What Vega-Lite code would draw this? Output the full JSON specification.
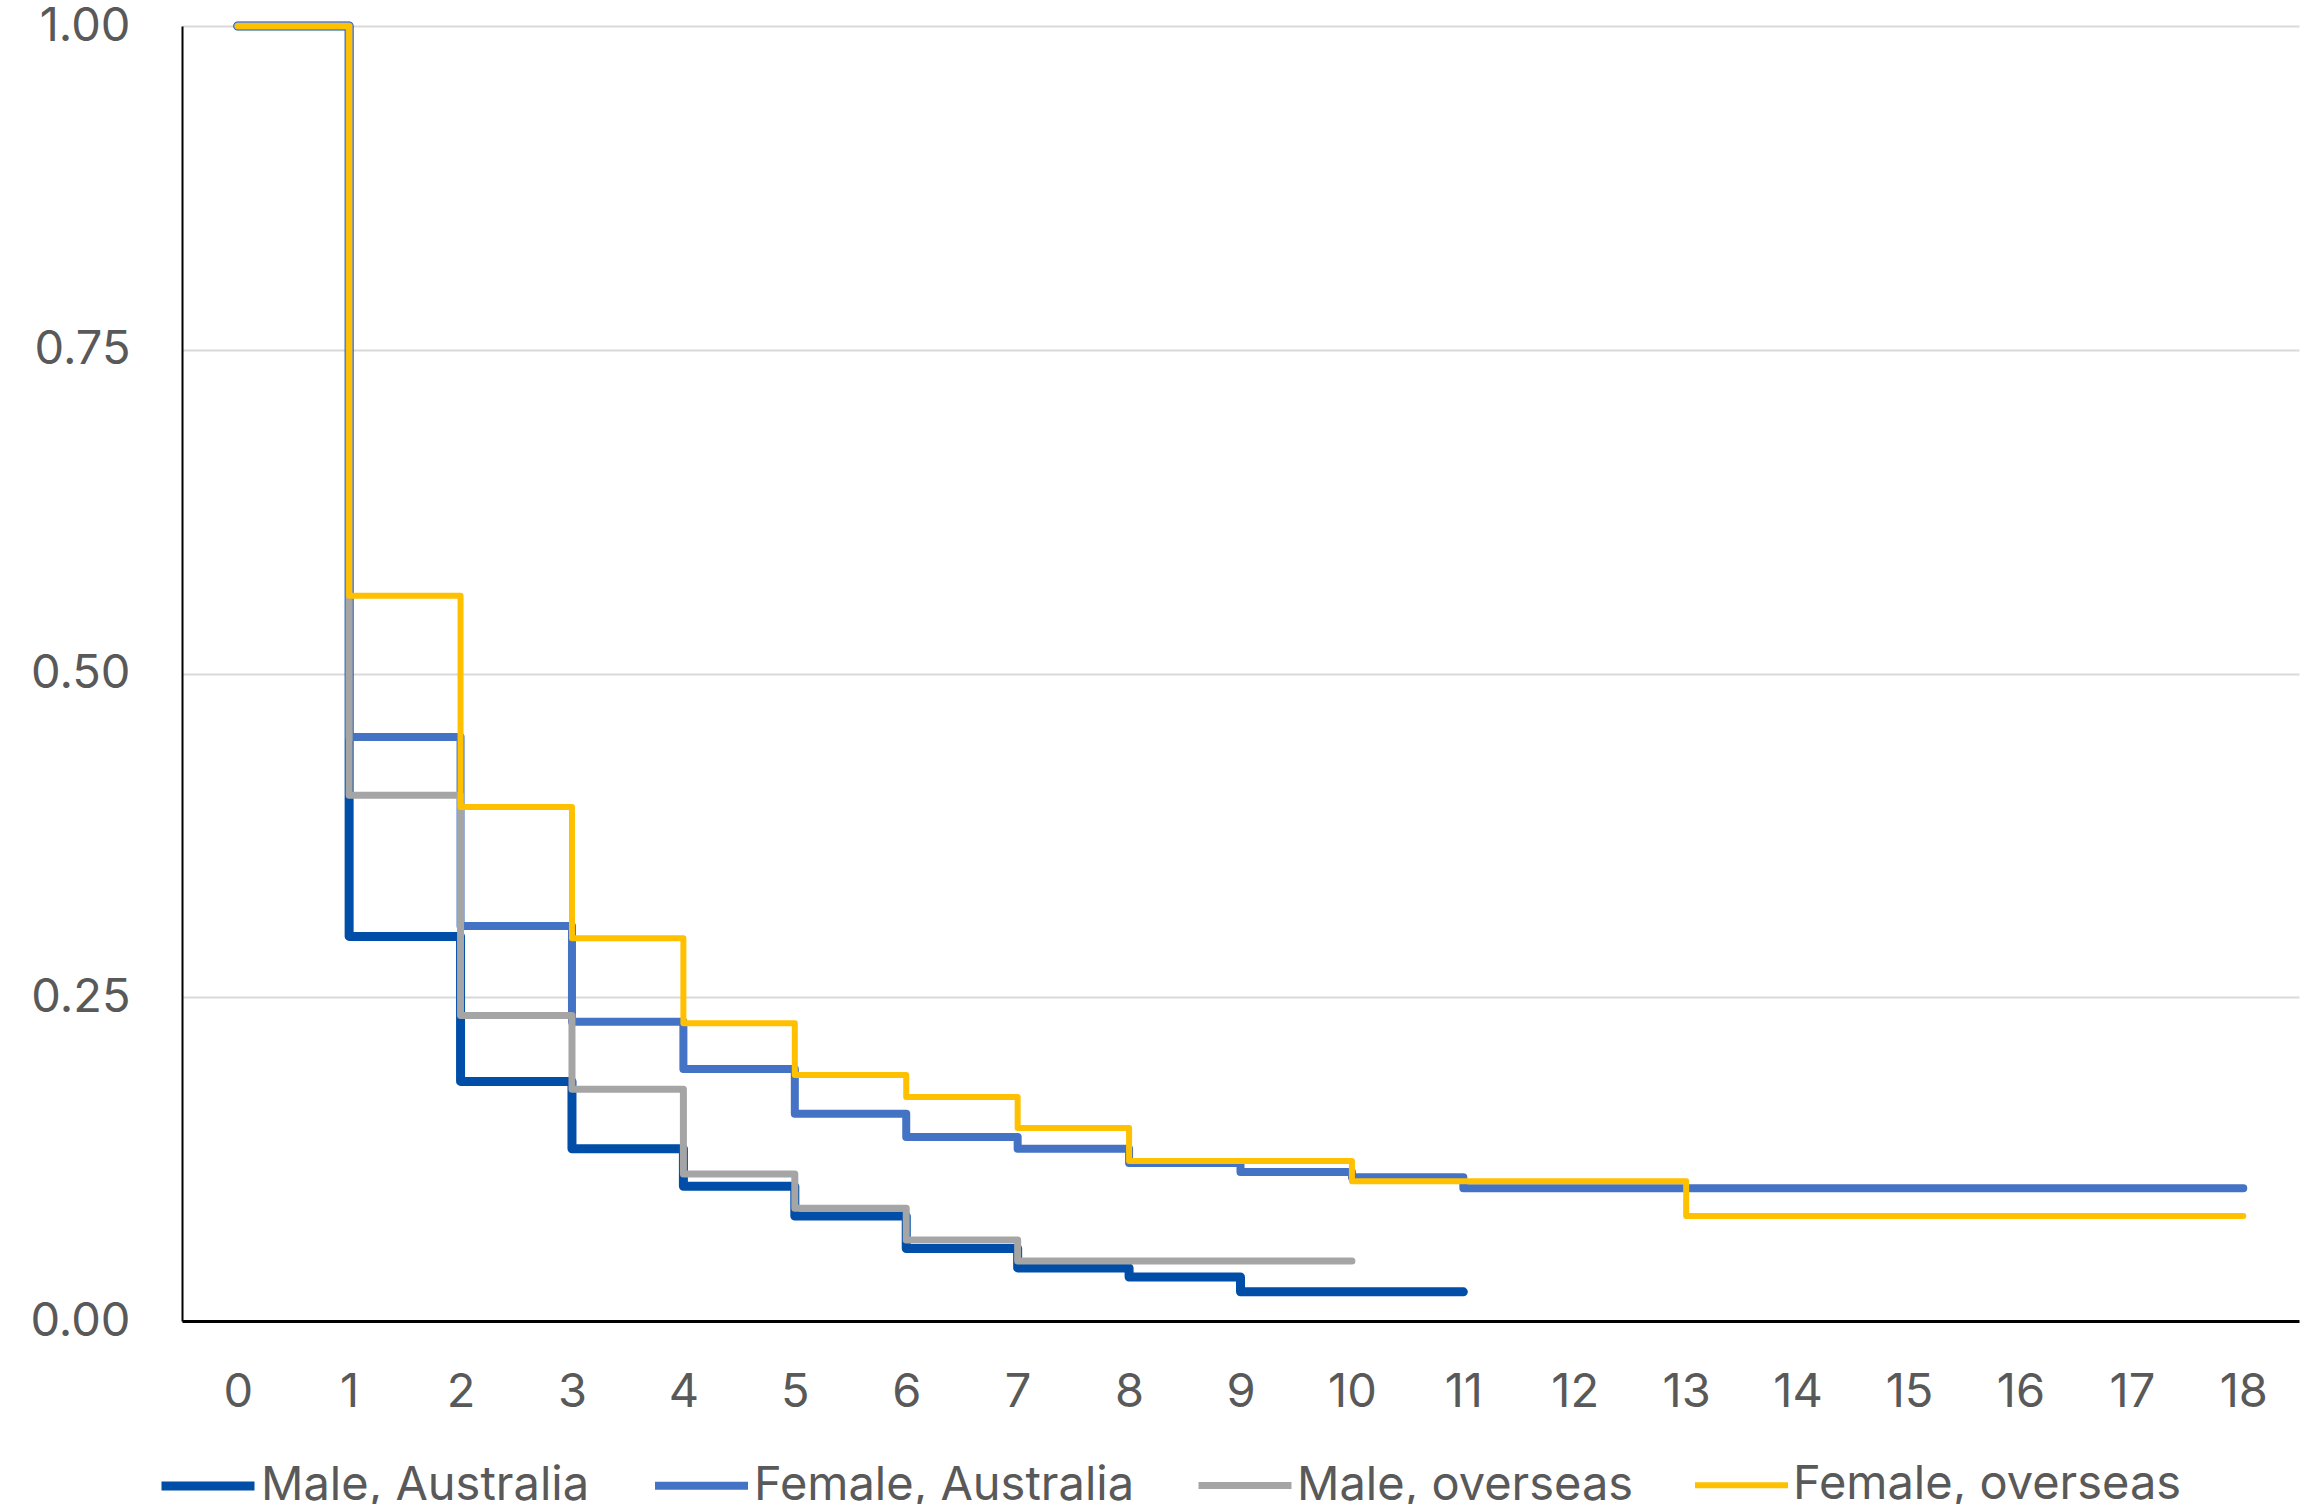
{
  "$schema": "https://vega.github.io/schema/vega-lite/v6.json",
  "autosize": {"type": "none"},
  "padding": {"left": 182, "top": 26, "right": 7, "bottom": 183},
  "width": 2117,
  "height": 1295,
  "background": "white",
  "config": {
    "font": "Inter",
    "view": {"stroke": null},
    "axis": {"labelFont": "Inter", "labelColor": "#595959", "labelFontSize": 47, "ticks": false, "title": null}
  },
  "data": {
    "values": [
      {"series": "Male, Australia", "t": 0, "v": 1.0},
      {"series": "Male, Australia", "t": 1, "v": 0.297},
      {"series": "Male, Australia", "t": 2, "v": 0.185},
      {"series": "Male, Australia", "t": 3, "v": 0.133},
      {"series": "Male, Australia", "t": 4, "v": 0.104},
      {"series": "Male, Australia", "t": 5, "v": 0.081},
      {"series": "Male, Australia", "t": 6, "v": 0.056},
      {"series": "Male, Australia", "t": 7, "v": 0.041},
      {"series": "Male, Australia", "t": 8, "v": 0.034},
      {"series": "Male, Australia", "t": 9, "v": 0.0225},
      {"series": "Male, Australia", "t": 10, "v": 0.0225},
      {"series": "Male, Australia", "t": 11, "v": 0.0225},
      {"series": "Female, Australia", "t": 0, "v": 1.0},
      {"series": "Female, Australia", "t": 1, "v": 0.451},
      {"series": "Female, Australia", "t": 2, "v": 0.305},
      {"series": "Female, Australia", "t": 3, "v": 0.231},
      {"series": "Female, Australia", "t": 4, "v": 0.1945},
      {"series": "Female, Australia", "t": 5, "v": 0.160},
      {"series": "Female, Australia", "t": 6, "v": 0.142},
      {"series": "Female, Australia", "t": 7, "v": 0.133},
      {"series": "Female, Australia", "t": 8, "v": 0.122},
      {"series": "Female, Australia", "t": 9, "v": 0.115},
      {"series": "Female, Australia", "t": 10, "v": 0.111},
      {"series": "Female, Australia", "t": 11, "v": 0.1025},
      {"series": "Female, Australia", "t": 12, "v": 0.1025},
      {"series": "Female, Australia", "t": 13, "v": 0.1025},
      {"series": "Female, Australia", "t": 14, "v": 0.1025},
      {"series": "Female, Australia", "t": 15, "v": 0.1025},
      {"series": "Female, Australia", "t": 16, "v": 0.1025},
      {"series": "Female, Australia", "t": 17, "v": 0.1025},
      {"series": "Female, Australia", "t": 18, "v": 0.1025},
      {"series": "Male, overseas", "t": 0, "v": 1.0},
      {"series": "Male, overseas", "t": 1, "v": 0.406},
      {"series": "Male, overseas", "t": 2, "v": 0.236},
      {"series": "Male, overseas", "t": 3, "v": 0.179},
      {"series": "Male, overseas", "t": 4, "v": 0.1135},
      {"series": "Male, overseas", "t": 5, "v": 0.087},
      {"series": "Male, overseas", "t": 6, "v": 0.0625},
      {"series": "Male, overseas", "t": 7, "v": 0.0463},
      {"series": "Male, overseas", "t": 8, "v": 0.0463},
      {"series": "Male, overseas", "t": 9, "v": 0.0463},
      {"series": "Male, overseas", "t": 10, "v": 0.0463},
      {"series": "Female, overseas", "t": 0, "v": 1.0},
      {"series": "Female, overseas", "t": 1, "v": 0.560},
      {"series": "Female, overseas", "t": 2, "v": 0.397},
      {"series": "Female, overseas", "t": 3, "v": 0.2956},
      {"series": "Female, overseas", "t": 4, "v": 0.230},
      {"series": "Female, overseas", "t": 5, "v": 0.190},
      {"series": "Female, overseas", "t": 6, "v": 0.173},
      {"series": "Female, overseas", "t": 7, "v": 0.149},
      {"series": "Female, overseas", "t": 8, "v": 0.1235},
      {"series": "Female, overseas", "t": 9, "v": 0.1235},
      {"series": "Female, overseas", "t": 10, "v": 0.108},
      {"series": "Female, overseas", "t": 11, "v": 0.108},
      {"series": "Female, overseas", "t": 12, "v": 0.108},
      {"series": "Female, overseas", "t": 13, "v": 0.081},
      {"series": "Female, overseas", "t": 14, "v": 0.081},
      {"series": "Female, overseas", "t": 15, "v": 0.081},
      {"series": "Female, overseas", "t": 16, "v": 0.081},
      {"series": "Female, overseas", "t": 17, "v": 0.081},
      {"series": "Female, overseas", "t": 18, "v": 0.081}
    ]
  },
  "mark": {"type": "line", "interpolate": "step-after", "strokeCap": "round", "strokeJoin": "round", "clip": false},
  "encoding": {
    "x": {
      "field": "t", "type": "quantitative",
      "scale": {"domain": [-0.5, 18.5], "nice": false, "zero": false},
      "axis": {"values": [0,1,2,3,4,5,6,7,8,9,10,11,12,13,14,15,16,17,18], "grid": false, "domainColor": "#000000", "domainWidth": 3, "labelPadding": 48, "labelFlush": false}
    },
    "y": {
      "field": "v", "type": "quantitative",
      "scale": {"domain": [0, 1], "nice": false},
      "axis": {"values": [0, 0.25, 0.5, 0.75, 1], "format": ".2f", "grid": true, "gridColor": "#d9d9d9", "gridWidth": 2, "domainColor": "#000000", "domainWidth": 2, "labelPadding": 52, "labelBaseline": "middle", "labelFlush": false}
    },
    "color": {
      "field": "series", "type": "nominal",
      "scale": {"domain": ["Male, Australia", "Female, Australia", "Male, overseas", "Female, overseas"], "range": ["#004EA8", "#4472C4", "#A5A5A5", "#FFC000"]},
      "legend": {
        "title": null, "orient": "none", "direction": "horizontal",
        "legendX": -25, "legendY": 1409,
        "symbolType": "stroke", "symbolSize": 8649, "symbolStrokeWidth": 7,
        "labelFont": "Inter", "labelFontSize": 47, "labelColor": "#595959",
        "labelOffset": 2, "columnPadding": 49, "labelLimit": 700
      }
    },
    "strokeWidth": {
      "field": "series", "type": "nominal",
      "scale": {"domain": ["Male, Australia", "Female, Australia", "Male, overseas", "Female, overseas"], "range": [9, 6, 6, 6]},
      "legend": null
    }
  }
}
